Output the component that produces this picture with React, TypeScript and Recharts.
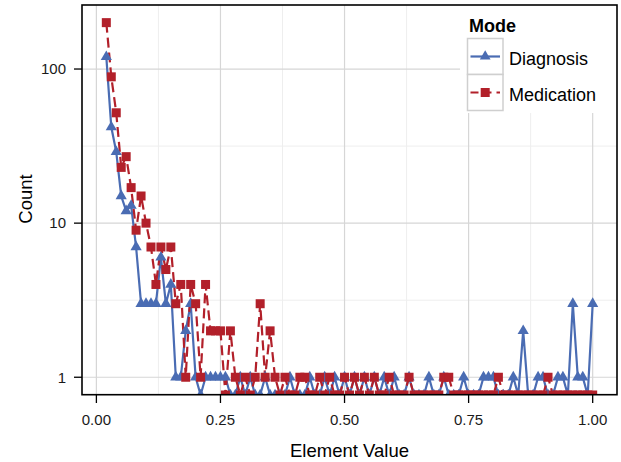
import React from "react";
import { LineChart, Line, XAxis, YAxis, CartesianGrid } from "recharts";

// element values (x), 0.02 .. 1.00
const elementValue = [
  0.02, 0.03, 0.04, 0.05, 0.06, 0.07, 0.08, 0.09,
  0.1, 0.11, 0.12, 0.13, 0.14, 0.15, 0.16, 0.17, 0.18, 0.19,
  0.2, 0.21, 0.22, 0.23, 0.24, 0.25, 0.26, 0.27, 0.28, 0.29,
  0.3, 0.31, 0.32, 0.33, 0.34, 0.35, 0.36, 0.37, 0.38, 0.39,
  0.4, 0.41, 0.42, 0.43, 0.44, 0.45, 0.46, 0.47, 0.48, 0.49,
  0.5, 0.51, 0.52, 0.53, 0.54, 0.55, 0.56, 0.57, 0.58, 0.59,
  0.6, 0.61, 0.62, 0.63, 0.64, 0.65, 0.66, 0.67, 0.68, 0.69,
  0.7, 0.71, 0.72, 0.73, 0.74, 0.75, 0.76, 0.77, 0.78, 0.79,
  0.8, 0.81, 0.82, 0.83, 0.84, 0.85, 0.86, 0.87, 0.88, 0.89,
  0.9, 0.91, 0.92, 0.93, 0.94, 0.95, 0.96, 0.97, 0.98, 0.99,
  1.0,
];

const diagnosis = [
  120, 42, 29, 15, 12, 13, 7, 3,
  3, 3, 3, 6, 3, 4, 1, 1, 2, 3,
  1, 0, 1, 1, 1, 1, 1, 0, 0, 1,
  0, 1, 0, 0, 1, 0, 0, 0, 0, 1,
  0, 0, 0, 1, 0, 0, 1, 0, 1, 0,
  1, 0, 1, 0, 1, 0, 1, 0, 1, 0,
  1, 0, 0, 1, 0, 0, 0, 1, 0, 0,
  1, 0, 0, 0, 1, 0, 0, 0, 1, 1,
  1, 0, 0, 0, 1, 0, 2, 0, 0, 1,
  1, 0, 0, 1, 1, 0, 3, 1, 1, 0,
  3,
];

const medication = [
  200, 89, 52, 23, 27, 17, 9, 15,
  10, 7, 4, 7, 5, 7, 3, 4, 1, 4,
  3, 1, 4, 2, 2, 2, 0, 2, 1, 0,
  1, 0, 1, 3, 1, 2, 1, 0, 1, 0,
  0, 1, 1, 0, 0, 1, 0, 1, 0, 0,
  1, 0, 1, 0, 1, 0, 1, 0, 0, 1,
  0, 0, 0, 1, 0, 0, 0, 0, 0, 0,
  1, 1, 0, 0, 0, 0, 0, 0, 0, 0,
  0, 1, 0, 0, 0, 0, 0, 0, 0, 0,
  0, 1, 0, 0, 0, 0, 0, 0, 0, 0,
  0,
];

const xTicks = [0, 0.25, 0.5, 0.75, 1];
const yTicks = [1, 10, 100];
const xMinor = [0.125, 0.375, 0.625, 0.875];
const yMinor = [3.1623, 31.623];

const X_DOMAIN = [-0.029, 1.049];
const Y_MIN = 0.767; // zeros sit on the bottom edge (log of 0)
const Y_MAX = 260.3;

const BLUE = "#4a6cb3";
const RED = "#b2202a";
const DASH = "10 5";
const FONT = "'Liberation Sans', Arial, Helvetica, sans-serif";

const data = elementValue.map((x, i) => ({
  x,
  diagnosis: diagnosis[i] === 0 ? Y_MIN : diagnosis[i],
  medication: medication[i] === 0 ? Y_MIN : medication[i],
  dRaw: diagnosis[i],
  mRaw: medication[i],
}));

const renderTriangle = (props: any) => {
  const { cx, cy, index, payload } = props;
  if (cx == null || cy == null) return <g key={`t-${index}`} />;
  if (payload.dRaw === 0) {
    return (
      <polygon
        key={`t-${index}`}
        points={`${cx},${cy - 6.2} ${cx - 3.6},${cy} ${cx + 3.6},${cy}`}
        fill={BLUE}
      />
    );
  }
  return (
    <polygon
      key={`t-${index}`}
      points={`${cx},${cy - 6.4} ${cx - 5.6},${cy + 3.2} ${cx + 5.6},${cy + 3.2}`}
      fill={BLUE}
    />
  );
};

const renderSquare = (props: any) => {
  const { cx, cy, index, payload } = props;
  if (cx == null || cy == null) return <g key={`s-${index}`} />;
  const zero = payload.mRaw === 0;
  return (
    <rect
      key={`s-${index}`}
      x={cx - 4.5}
      y={cy - 4.5}
      width={9}
      height={zero ? 4.5 : 9}
      fill={RED}
    />
  );
};

function LegendBox() {
  return (
    <g>
      <rect x={460} y={5} width={157} height={108} fill="#fff" />
      <text x={469} y={31.5} fontFamily={FONT} fontWeight="bold" fontSize={18} fill="#000">
        Mode
      </text>
      <rect x={467.5} y={38.5} width={35.5} height={36} fill="#fff" stroke="#cfcfcf" strokeWidth={1.5} />
      <rect x={467.5} y={74.5} width={35.5} height={36} fill="#fff" stroke="#cfcfcf" strokeWidth={1.5} />
      <line x1={470.5} y1={56.5} x2={500} y2={56.5} stroke={BLUE} strokeWidth={2.2} />
      <polygon points="485.2,50.3 479.8,59.6 490.6,59.6" fill={BLUE} />
      <line x1={470.5} y1={92.5} x2={500} y2={92.5} stroke={RED} strokeWidth={2.2} strokeDasharray="8 5" />
      <rect x={480.7} y={88} width={9} height={9} fill={RED} />
      <text x={509} y={64.5} fontFamily={FONT} fontSize={18} fill="#000">
        Diagnosis
      </text>
      <text x={509} y={100.5} fontFamily={FONT} fontSize={18} fill="#000">
        Medication
      </text>
    </g>
  );
}

export default function App() {
  const tickStyle = { fontSize: 15, fill: "#1a1a1a", fontFamily: FONT };
  return (
    <div style={{ position: "relative", width: 621, height: 462, background: "#fff" }}>
      <style>{`body{margin:0}`}</style>
      <LineChart
        width={621}
        height={462}
        data={data}
        margin={{ top: 5, right: 4, bottom: 0, left: 0 }}
      >
        <CartesianGrid
          horizontalValues={yMinor}
          verticalValues={xMinor}
          stroke="#eeeeee"
          strokeWidth={1}
        />
        <CartesianGrid
          horizontalValues={yTicks}
          verticalValues={xTicks}
          stroke="#d6d6d6"
          strokeWidth={1.2}
        />
        <XAxis
          type="number"
          dataKey="x"
          domain={X_DOMAIN}
          ticks={xTicks}
          interval={0}
          allowDataOverflow
          height={67}
          tickSize={8}
          tickMargin={11}
          axisLine={false}
          tickLine={{ stroke: "#000", strokeWidth: 1.3 }}
          tick={tickStyle}
          tickFormatter={(v: number) => v.toFixed(2)}
        />
        <YAxis
          type="number"
          scale="log"
          domain={[Y_MIN, Y_MAX]}
          ticks={yTicks}
          interval={0}
          allowDataOverflow
          width={82}
          tickSize={8}
          tickMargin={8}
          axisLine={false}
          tickLine={{ stroke: "#000", strokeWidth: 1.3 }}
          tick={tickStyle}
          tickFormatter={(v: number) => String(v)}
        />
        <Line
          dataKey="diagnosis"
          stroke={BLUE}
          strokeWidth={2.2}
          dot={false}
          activeDot={false}
          isAnimationActive={false}
        />
        <Line
          dataKey="medication"
          stroke={RED}
          strokeWidth={2.2}
          strokeDasharray={DASH}
          dot={false}
          activeDot={false}
          isAnimationActive={false}
        />
        <Line
          dataKey="diagnosis"
          stroke="none"
          dot={renderTriangle}
          activeDot={false}
          isAnimationActive={false}
        />
        <Line
          dataKey="medication"
          stroke="none"
          dot={renderSquare}
          activeDot={false}
          isAnimationActive={false}
        />
      </LineChart>
      <svg
        width={621}
        height={462}
        style={{ position: "absolute", left: 0, top: 0, pointerEvents: "none" }}
      >
        <LegendBox />
        <rect x={82} y={5} width={535} height={389.7} fill="none" stroke="#000" strokeWidth={1.6} />
        <text x={349.5} y={457} textAnchor="middle" fontFamily={FONT} fontSize={18.5} fill="#000">
          Element Value
        </text>
        <text
          x={0}
          y={0}
          transform="translate(31.5,199) rotate(-90)"
          textAnchor="middle"
          fontFamily={FONT}
          fontSize={18.5}
          fill="#000"
        >
          Count
        </text>
      </svg>
    </div>
  );
}
